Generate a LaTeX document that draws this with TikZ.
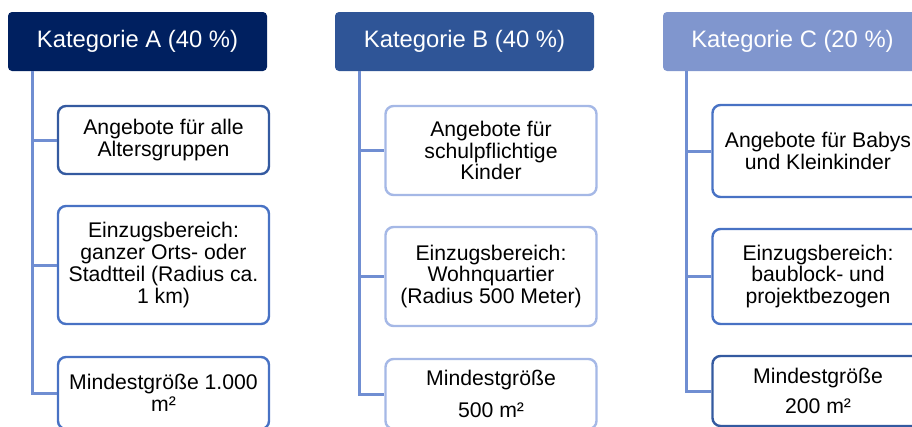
\documentclass[tikz,border=0pt]{standalone}
\usepackage{fontspec}
\setmainfont{Liberation Sans}
\definecolor{headA}{RGB}{0,32,96}
\definecolor{headB}{RGB}{47,85,151}
\definecolor{headC}{RGB}{128,150,206}
\definecolor{connc}{RGB}{112,142,210}
\definecolor{bdark}{RGB}{52,90,160}
\definecolor{bmid}{RGB}{72,114,196}
\definecolor{blight}{RGB}{165,184,230}
\begin{document}
\begin{tikzpicture}[x=1pt,y=-1pt,
  head/.style={rounded corners=4pt, minimum width=259pt, minimum height=59pt,
    inner sep=0pt, text=white, font=\fontsize{23.8}{26}\selectfont},
  child/.style={draw, line width=2.4pt, rounded corners=8pt, fill=white,
    minimum width=211pt, inner sep=0pt, align=center, text=black,
    font=\fontsize{21.2}{21.7}\selectfont},
  conn/.style={draw=connc, line width=3pt}]
\useasboundingbox (0,0) rectangle (912,426);
% headers
\node[head, fill=headA] (hA) at (137.5,41.5) {Kategorie A (40 \%)};
\node[head, fill=headB] (hB) at (464.5,41.5) {Kategorie B (40 \%)};
\node[head, fill=headC] (hC) at (792.5,41.5) {Kategorie C (20 \%)};
\coordinate (tA) at ([xshift=25pt]hA.south west);
\coordinate (tB) at ([xshift=25pt]hB.south west);
\coordinate (tC) at ([xshift=24pt]hC.south west);
% connectors (drawn first, boxes cover their ends)
\path (163.5,140) coordinate (pa1) (163.5,265) coordinate (pa2) (163.5,393) coordinate (pa3)
      (491,150.5) coordinate (pb1) (491,276.5) coordinate (pb2) (491,394) coordinate (pb3)
      (818,151) coordinate (pc1) (818,276.5) coordinate (pc2) (818,391) coordinate (pc3);
% children
\node[child, draw=bdark, minimum height=68pt] (a1) at (pa1) {Angebote für alle\\Altersgruppen};
\node[child, draw=bmid, minimum height=118pt] (a2) at (pa2) {Einzugsbereich:\\ganzer Orts- oder\\Stadtteil (Radius ca.\\1 km)};
\node[child, draw=bmid, minimum height=72pt] (a3) at (pa3) {Mindestgröße 1.000\\m²};
\node[child, draw=blight, minimum height=89pt] (b1) at (pb1) {Angebote für\\schulpflichtige\\Kinder};
\node[child, draw=blight, minimum height=99pt] (b2) at (pb2) {Einzugsbereich:\\Wohnquartier\\(Radius 500 Meter)};
\node[child, draw=blight, minimum height=70pt] (b3) at (pb3) {Mindestgröße\\[10pt]500 m²};
\node[child, draw=bmid, minimum height=92pt] (c1) at (pc1) {Angebote für Babys\\und Kleinkinder};
\node[child, draw=bmid, minimum height=95pt] (c2) at (pc2) {Einzugsbereich:\\baublock- und\\projektbezogen};
\node[child, draw=bdark, minimum height=70pt] (c3) at (pc3) {Mindestgröße\\[7.5pt]200 m²};
% connectors
\draw[conn] (tA) |- (a3.west);
\draw[conn] (tA |- a1.west) -- (a1.west);
\draw[conn] (tA |- a2.west) -- (a2.west);
\draw[conn] (tB) |- (b3.west);
\draw[conn] (tB |- b1.west) -- (b1.west);
\draw[conn] (tB |- b2.west) -- (b2.west);
\draw[conn] (tC) |- (c3.west);
\draw[conn] (tC |- c1.west) -- (c1.west);
\draw[conn] (tC |- c2.west) -- (c2.west);
\end{tikzpicture}
\end{document}
